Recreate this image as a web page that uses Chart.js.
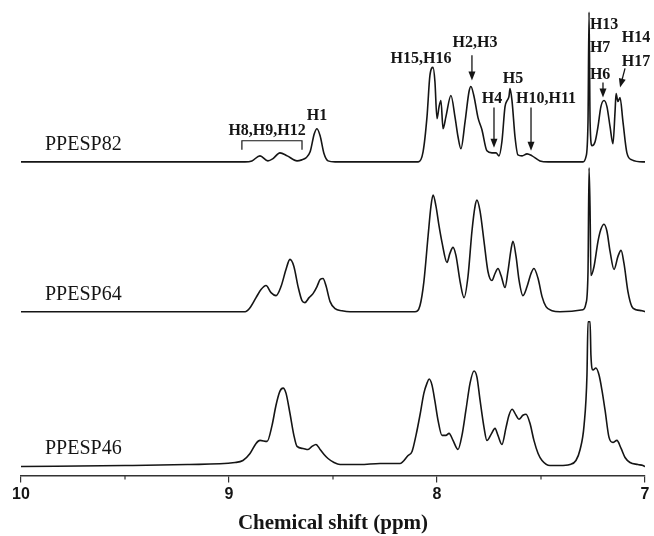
<!DOCTYPE html>
<html>
<head>
<meta charset="utf-8">
<script src="https://cdn.jsdelivr.net/npm/chart.js@4/dist/chart.umd.min.js"></script>
<style>
  body { margin: 0; background: #fff; }
  canvas { display: block; }
</style>
</head>
<body>
<canvas id="nmr" width="654" height="536"></canvas>
<script>
// Spectra: [chemical shift (ppm), intensity above own baseline]
const spec82 = [
  [10.0, 0], [9.5, 0], [9.0, 0], [8.923, 0], [8.89, 1], [8.851, 6], [8.813, 1], [8.79, 3],
  [8.755, 9], [8.72, 6], [8.673, 1], [8.65, 2], [8.63, 4], [8.61, 10], [8.59, 28], [8.577, 33],
  [8.562, 26], [8.543, 8], [8.524, 1], [8.49, 0], [8.3, 0], [8.09, 0], [8.067, 10], [8.048, 45],
  [8.034, 86], [8.019, 94], [8.01, 80], [8.0, 43], [7.99, 55], [7.981, 61], [7.971, 33], [7.957, 45],
  [7.933, 66], [7.913, 44], [7.899, 25], [7.885, 13], [7.865, 40], [7.846, 70], [7.837, 75], [7.822, 65],
  [7.803, 44], [7.784, 32], [7.76, 11], [7.736, 9], [7.716, 9], [7.702, 6], [7.688, 20], [7.673, 55],
  [7.663, 61], [7.654, 65], [7.649, 73], [7.639, 60], [7.625, 25], [7.611, 7], [7.591, 6], [7.567, 8],
  [7.543, 6], [7.505, 1], [7.466, 0], [7.4, 0], [7.298, 0], [7.284, 5], [7.274, 40], [7.269, 149],
  [7.264, 40], [7.255, 16], [7.24, 20], [7.226, 35], [7.212, 55], [7.197, 61], [7.183, 55], [7.168, 35],
  [7.154, 18], [7.144, 50], [7.139, 68], [7.13, 60], [7.12, 64], [7.106, 40], [7.087, 9], [7.063, 2],
  [7.01, 0], [7.0, 0]
];
const spec64 = [
  [10.0, 0], [9.5, 0], [9.0, 0], [8.923, 0], [8.899, 4], [8.87, 14], [8.846, 22], [8.822, 26],
  [8.798, 19], [8.774, 16], [8.75, 25], [8.726, 42], [8.707, 52], [8.688, 45], [8.668, 25], [8.649, 11],
  [8.635, 9], [8.615, 14], [8.596, 18], [8.577, 25], [8.562, 32], [8.548, 33], [8.534, 26], [8.514, 10],
  [8.49, 3], [8.457, 1], [8.418, 0], [8.106, 0], [8.082, 6], [8.063, 30], [8.043, 75], [8.029, 105],
  [8.019, 116], [8.005, 105], [7.99, 85], [7.976, 69], [7.952, 49], [7.938, 58], [7.923, 64], [7.909, 56],
  [7.889, 30], [7.87, 14], [7.851, 35], [7.832, 80], [7.817, 105], [7.808, 111], [7.793, 100], [7.774, 70],
  [7.755, 40], [7.736, 31], [7.721, 38], [7.707, 43], [7.692, 36], [7.673, 24], [7.659, 40], [7.644, 62],
  [7.635, 70], [7.62, 55], [7.606, 32], [7.587, 16], [7.567, 25], [7.548, 38], [7.534, 43], [7.514, 33],
  [7.495, 15], [7.476, 5], [7.447, 1], [7.409, 0], [7.298, 2], [7.284, 8], [7.274, 40], [7.269, 143],
  [7.264, 100], [7.26, 36], [7.245, 45], [7.226, 70], [7.212, 82], [7.197, 87], [7.183, 80], [7.168, 60],
  [7.149, 42], [7.13, 55], [7.115, 61], [7.101, 48], [7.082, 20], [7.063, 5], [7.043, 2], [7.014, 1],
  [7.0, 0]
];
const spec46 = [
  [10.0, -1], [9.5, 0], [9.2, 1], [8.971, 3], [8.933, 5], [8.899, 12], [8.87, 22], [8.851, 25],
  [8.817, 24], [8.793, 40], [8.774, 60], [8.755, 74], [8.74, 77], [8.726, 72], [8.707, 52], [8.688, 30],
  [8.673, 19], [8.644, 17], [8.62, 16], [8.601, 19], [8.582, 21], [8.562, 16], [8.543, 11], [8.524, 7],
  [8.495, 3], [8.466, 1], [8.37, 1], [8.274, 2], [8.178, 2], [8.139, 10], [8.12, 14], [8.101, 30],
  [8.082, 50], [8.063, 72], [8.048, 82], [8.038, 86], [8.024, 80], [8.01, 64], [7.995, 45], [7.976, 30],
  [7.957, 30], [7.942, 32], [7.923, 25], [7.899, 16], [7.88, 30], [7.861, 55], [7.841, 82], [7.822, 94],
  [7.808, 88], [7.793, 65], [7.774, 38], [7.76, 25], [7.74, 31], [7.721, 37], [7.707, 30], [7.688, 21],
  [7.668, 38], [7.654, 50], [7.639, 56], [7.62, 50], [7.606, 46], [7.587, 50], [7.572, 51], [7.553, 42],
  [7.534, 25], [7.514, 12], [7.495, 5], [7.457, 0], [7.409, 0], [7.361, 1], [7.332, 5], [7.312, 16],
  [7.293, 40], [7.279, 90], [7.274, 143], [7.264, 143], [7.26, 110], [7.25, 95], [7.236, 97], [7.221, 90],
  [7.207, 75], [7.192, 55], [7.173, 28], [7.154, 23], [7.135, 25], [7.115, 17], [7.096, 8], [7.072, 3],
  [7.034, 1], [7.01, 0], [7.0, -1]
];

const sampleNames = ['PPESP82', 'PPESP64', 'PPESP46'];
const stackOffsets = [312, 163, 10];   // vertical offset of each trace
const minorTicks = [7.5, 8.5, 9.5];

// peak labels: [text, ppm, height]
const peakLabels = [
  ['H15,H16', 8.077, 414], ['H2,H3', 7.817, 430], ['H4', 7.736, 375], ['H5', 7.635, 395],
  ['H10,H11', 7.476, 375], ['H1', 8.577, 358], ['H8,H9,H12', 8.817, 343]
];
const leftLabels = [
  ['H13', 7.265, 448], ['H7', 7.265, 425], ['H6', 7.265, 399], ['H14', 7.112, 435], ['H17', 7.112, 411]
];
// arrows: [ppm from, y from, ppm to, y to]
const arrows = [
  [7.832, 418, 7.832, 393], [7.726, 366, 7.726, 326], [7.548, 366, 7.548, 323],
  [7.202, 391, 7.202, 376], [7.096, 405, 7.12, 386]
];
const bracket = [8.938, 8.649, 333, 324];

const INK = '#151515';

const datasets = [spec82, spec64, spec46].map((spec, i) => ({
  label: sampleNames[i],
  data: spec.map(p => ({ x: p[0], y: p[1] + stackOffsets[i] })),
  borderColor: INK,
  borderWidth: 1.6,
  pointRadius: 0,
  fill: false,
  cubicInterpolationMode: 'monotone'
}));

const annotate = {
  id: 'annotate',
  afterDraw(chart) {
    const ctx = chart.ctx;
    const xs = chart.scales.x, ys = chart.scales.y;
    const px = v => xs.getPixelForValue(v);
    const py = v => ys.getPixelForValue(v);
    ctx.save();

    // minor ticks on the ppm axis
    ctx.strokeStyle = '#333';
    ctx.lineWidth = 1.2;
    minorTicks.forEach(v => {
      ctx.beginPath();
      ctx.moveTo(px(v), xs.top);
      ctx.lineTo(px(v), xs.top + 4);
      ctx.stroke();
    });

    // sample names
    ctx.fillStyle = INK;
    ctx.textBaseline = 'middle';
    ctx.textAlign = 'left';
    ctx.font = '20px "Liberation Serif"';
    sampleNames.forEach((name, i) => {
      ctx.fillText(name, px(9.885), py(stackOffsets[i] + 17));
    });

    // peak assignments
    ctx.font = 'bold 16px "Liberation Serif"';
    ctx.textAlign = 'center';
    peakLabels.forEach(l => ctx.fillText(l[0], px(l[1]), py(l[2])));
    ctx.textAlign = 'left';
    leftLabels.forEach(l => ctx.fillText(l[0], px(l[1]), py(l[2])));

    // arrows
    ctx.strokeStyle = INK;
    ctx.lineWidth = 1.3;
    arrows.forEach(a => {
      const x1 = px(a[0]), y1 = py(a[1]), x2 = px(a[2]), y2 = py(a[3]);
      const ang = Math.atan2(y2 - y1, x2 - x1);
      ctx.beginPath();
      ctx.moveTo(x1, y1);
      ctx.lineTo(x2 - 6 * Math.cos(ang), y2 - 6 * Math.sin(ang));
      ctx.stroke();
      ctx.beginPath();
      ctx.moveTo(x2, y2);
      ctx.lineTo(x2 - 9 * Math.cos(ang) + 3.5 * Math.sin(ang), y2 - 9 * Math.sin(ang) - 3.5 * Math.cos(ang));
      ctx.lineTo(x2 - 9 * Math.cos(ang) - 3.5 * Math.sin(ang), y2 - 9 * Math.sin(ang) + 3.5 * Math.cos(ang));
      ctx.closePath();
      ctx.fill();
    });

    // bracket over H8,H9,H12
    ctx.lineWidth = 1.2;
    ctx.beginPath();
    ctx.moveTo(px(bracket[0]), py(bracket[3]));
    ctx.lineTo(px(bracket[0]), py(bracket[2]));
    ctx.lineTo(px(bracket[1]), py(bracket[2]));
    ctx.lineTo(px(bracket[1]), py(bracket[3]));
    ctx.stroke();

    ctx.restore();
  }
};

new Chart(document.getElementById('nmr'), {
  type: 'line',
  data: { datasets: datasets },
  plugins: [annotate],
  options: {
    responsive: false,
    animation: false,
    layout: { padding: { left: 21, right: 9, top: 0, bottom: 0 } },
    plugins: { legend: { display: false }, tooltip: { enabled: false } },
    scales: {
      x: {
        type: 'linear',
        reverse: true,
        min: 7,
        max: 10,
        ticks: {
          stepSize: 1,
          padding: 2,
          maxRotation: 0,
          color: INK,
          font: { family: '"Liberation Sans"', size: 16, weight: 'bold' }
        },
        grid: { drawOnChartArea: false, tickLength: 7, color: '#333', lineWidth: 1.2 },
        border: { display: true, color: '#333', width: 1.5 },
        title: {
          display: true,
          text: 'Chemical shift (ppm)',
          color: INK,
          font: { family: '"Liberation Serif"', size: 21, weight: 'bold' },
          padding: { top: 5, bottom: 0 }
        }
      },
      y: { display: false, min: 0, max: 473 }
    }
  }
});
</script>
</body>
</html>
